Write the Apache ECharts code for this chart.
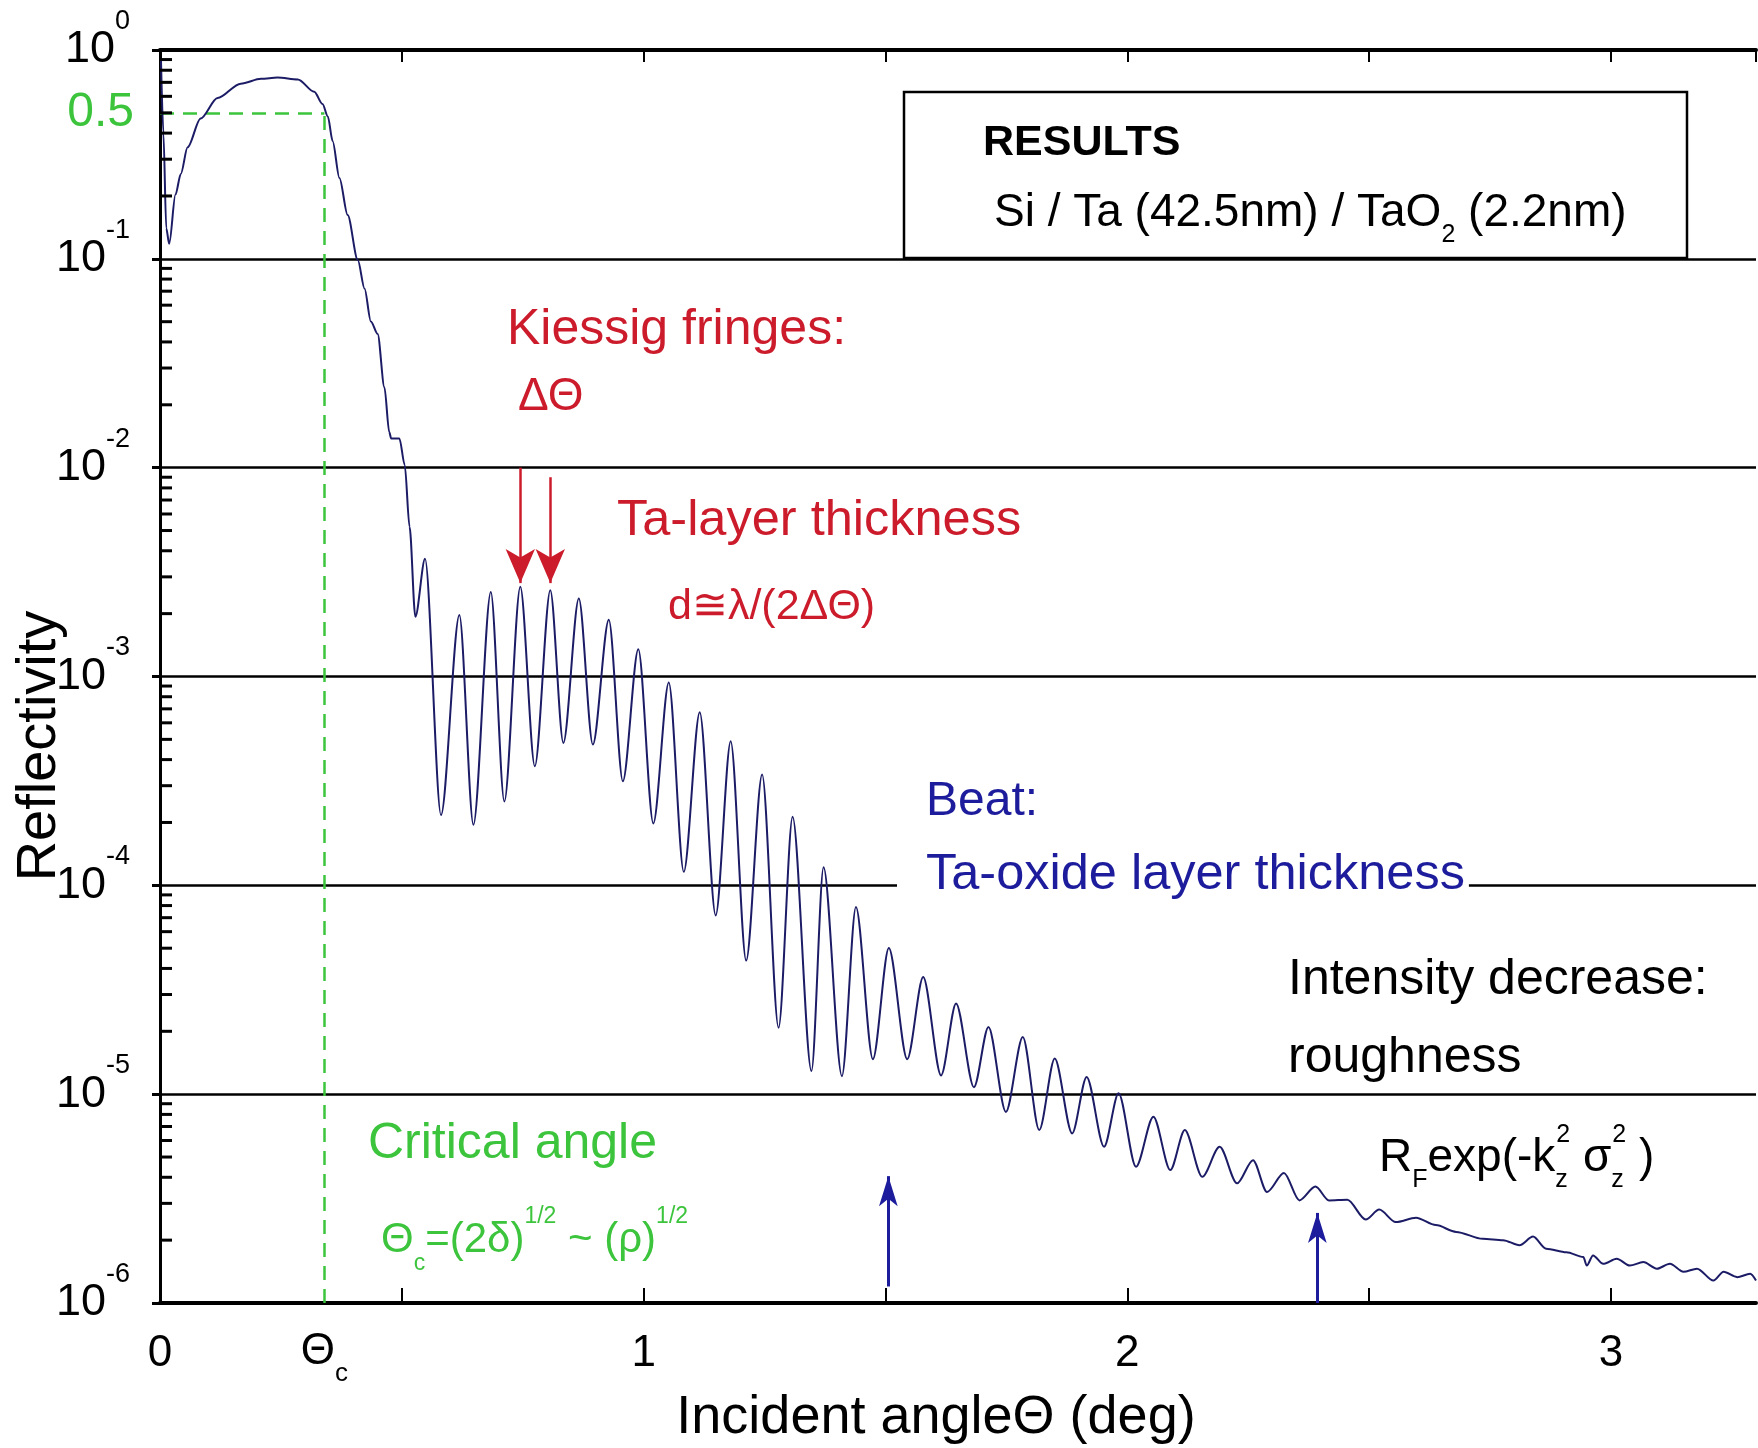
<!DOCTYPE html>
<html><head><meta charset="utf-8">
<script src="https://cdn.jsdelivr.net/npm/echarts@6/dist/echarts.min.js"></script>
<style>html,body{margin:0;padding:0;background:#fff}#c{width:1758px;height:1448px}</style>
</head><body><div id="c"></div>
<script>
// ---- data ----
const angle = [0.002,0.007,0.013,0.019,0.032,0.043,0.057,0.084,0.119,0.167,
  0.209,0.243,0.285,0.319,0.336,0.347,0.357,0.371,0.388,0.409,
  0.423,0.436,0.450,0.464,0.474,0.478,0.495,0.506,0.516,0.528,
  0.548,0.581,0.619,0.648,0.684,0.712,0.745,0.775,0.807,0.834,
  0.866,0.895,0.928,0.957,0.989,1.020,1.052,1.083,1.116,1.149,
  1.180,1.212,1.245,1.279,1.308,1.347,1.372,1.410,1.439,1.474,
  1.507,1.545,1.578,1.615,1.646,1.683,1.713,1.749,1.784,1.818,
  1.850,1.886,1.916,1.952,1.982,2.018,2.054,2.089,2.119,2.155,
  2.191,2.227,2.260,2.289,2.324,2.356,2.389,2.417,2.455,2.493,
  2.521,2.555,2.597,2.638,2.680,2.735,2.777,2.811,2.839,2.866,
  2.908,2.943,2.950,2.963,2.984,3.012,3.039,3.067,3.095,3.122,
  3.150,3.178,3.212,3.233,3.261,3.288,3.300];
const reflectivity = [0.90,0.40,0.14,0.118,0.203,0.255,0.342,0.470,0.589,0.690,
  0.728,0.738,0.723,0.631,0.551,0.481,0.366,0.244,0.162,0.0986,
  0.0719,0.0501,0.0437,0.0243,0.0148,0.0138,0.0138,0.0103,0.00521,0.00193,
  0.00366,0.000217,0.00197,0.000195,0.00254,0.000252,0.00269,0.000372,0.00259,0.000481,
  0.00236,0.000472,0.00187,0.000315,0.00135,0.000198,0.000935,0.000116,0.000675,7.18e-5,
  4.90e-4,4.36e-5,3.39e-4,2.08e-5,2.13e-4,1.29e-5,1.22e-4,1.22e-5,7.87e-5,1.47e-5,
  5.01e-5,1.47e-5,3.64e-5,1.23e-5,2.72e-5,1.08e-5,2.10e-5,8.22e-6,1.88e-5,6.73e-6,
  1.48e-5,6.49e-6,1.21e-5,5.60e-6,1.01e-5,4.49e-6,7.80e-6,4.33e-6,6.73e-6,4.02e-6,
  5.60e-6,3.74e-6,4.83e-6,3.40e-6,4.19e-6,3.10e-6,3.61e-6,3.10e-6,3.12e-6,2.51e-6,
  2.80e-6,2.44e-6,2.56e-6,2.36e-6,2.19e-6,2.03e-6,2.00e-6,1.89e-6,2.08e-6,1.82e-6,
  1.75e-6,1.66e-6,1.51e-6,1.69e-6,1.54e-6,1.63e-6,1.51e-6,1.57e-6,1.46e-6,1.54e-6,
  1.41e-6,1.46e-6,1.28e-6,1.41e-6,1.33e-6,1.38e-6,1.28e-6];

const xLabelValues = [0, 1, 2, 3];
const criticalAngle = 0.34;
const halfLevel = 0.5;
const kiessigArrows = [[0.745, 1.0e-2, 2.8e-3], [0.807, 9.0e-3, 2.8e-3]];
const beatArrows = [[1.506, 1.2e-6, 4.05e-6], [2.393, 1.0e-6, 2.7e-6]];
const minorTickValues = [];
for (let k = -6; k < 0; k++) for (let m = 2; m <= 9; m++) minorTickValues.push(+(m * Math.pow(10, k)).toPrecision(3));

// ---- styles ----
const FONT = '"Liberation Sans", Arial, Helvetica, sans-serif';
const RED = '#cc1c2c', BLUE = '#1c1c9c', GREEN = '#3cc43c', CURVE = '#1c1c66';

const chart = echarts.init(document.getElementById('c'), null, {renderer: 'canvas'});

function txt(x, y, text, color, size, rich, extra) {
  return {
    type: 'text', x: x, y: y, z: 50,
    style: Object.assign({
      text: text, fill: color, fontSize: size, fontFamily: FONT,
      align: 'left', verticalAlign: 'middle', textAlign: 'left', textVerticalAlign: 'middle',
      rich: rich || {}
    }, extra || {})
  };
}
function supsub(size, color) {
  const s = Math.round(size * 0.55);
  return {
    t: {fontSize: size, fontFamily: FONT, color: color, lineHeight: 70},
    sp: {fontSize: s, fontFamily: FONT, color: color, verticalAlign: 'top', lineHeight: 26},
    sb: {fontSize: s, fontFamily: FONT, color: color, verticalAlign: 'bottom', lineHeight: 26},
    sb0: {fontSize: s, fontFamily: FONT, color: color, verticalAlign: 'bottom', lineHeight: 26, width: 1}
  };
}

const option = {
  animation: false,
  backgroundColor: '#fff',
  grid: {left: 160, top: 50, right: 2, bottom: 145, containLabel: false},
  xAxis: [{
    type: 'value', min: 0, max: 3.3, interval: 0.5, position: 'bottom',
    axisLine: {show: true, onZero: false, lineStyle: {color: '#000', width: 4}},
    axisTick: {show: true, inside: true, length: 15, lineStyle: {color: '#000', width: 2}},
    splitLine: {show: false},
    axisLabel: {
      formatter: v => xLabelValues.indexOf(v) >= 0 ? String(v) : '',
      fontSize: 44, fontFamily: FONT, color: '#000', margin: 29, showMaxLabel: false
    }
  }, {
    type: 'value', min: 0, max: 3.3, interval: 0.5, position: 'top',
    axisLine: {show: true, onZero: false, lineStyle: {color: '#000', width: 4}},
    axisTick: {show: true, inside: true, length: 12, lineStyle: {color: '#000', width: 2}},
    splitLine: {show: false}, axisLabel: {show: false}
  }],
  yAxis: [{
    type: 'log', logBase: 10, min: 1e-6, max: 1, position: 'left',
    axisLine: {show: true, lineStyle: {color: '#000', width: 3}},
    axisTick: {show: false},
    splitLine: {show: true, lineStyle: {color: '#000', width: 2.5}},
    axisLabel: {
      margin: 30,
      formatter: v => '{b|10}{s|' + Math.round(Math.log10(v)) + '}',
      rich: {
        b: {fontSize: 45, fontFamily: FONT, color: '#000', lineHeight: 84},
        s: {fontSize: 27, fontFamily: FONT, color: '#000', verticalAlign: 'top', lineHeight: 27}
      }
    }
  }, {
    type: 'log', logBase: 10, min: 1e-6, max: 1, position: 'right',
    axisLine: {show: true, lineStyle: {color: '#000', width: 3}},
    axisTick: {show: true, inside: true, length: 8, lineStyle: {color: '#000', width: 3}},
    splitLine: {show: false}, axisLabel: {show: false}
  }],
  series: [{
    type: 'line', name: 'Reflectivity',
    data: angle.map((a, i) => [a, reflectivity[i]]),
    showSymbol: false, symbol: 'none',
    smooth: 0.3, smoothMonotone: 'x',
    lineStyle: {color: CURVE, width: 2},
    z: 5,
    markLine: {
      silent: true, symbol: ['none', 'none'], animation: false,
      lineStyle: {color: GREEN, type: [14, 9], width: 2.5},
      data: [
        [{coord: [0, halfLevel], label: {show: true, position: 'start', formatter: '0.5', color: GREEN, fontSize: 48, fontFamily: FONT, distance: 26}},
         {coord: [criticalAngle, halfLevel]}],
        [{coord: [criticalAngle, 1e-6], label: {show: true, position: 'start', distance: 14,
            formatter: '{t|\u0398}{c|c}',
            rich: {t: {fontSize: 44, fontFamily: FONT, color: '#000', lineHeight: 70},
                   c: {fontSize: 26, fontFamily: FONT, color: '#000', verticalAlign: 'bottom', lineHeight: 26}}}},
         {coord: [criticalAngle, halfLevel]}]
      ]
    }
  }, {
    type: 'custom', name: 'minor ticks', coordinateSystem: 'cartesian2d',
    data: minorTickValues.map(v => [0, v]),
    encode: {x: 0, y: 1}, silent: true, z: 6,
    renderItem: (params, api) => {
      const p = api.coord([0, api.value(1)]);
      return {type: 'line', shape: {x1: p[0], y1: p[1], x2: p[0] + 12, y2: p[1]}, style: {stroke: '#000', lineWidth: 3}};
    }
  }, {
    type: 'line', name: 'Kiessig arrows', data: [], z: 7,
    markLine: {
      silent: true, animation: false, symbol: ['none', 'arrow'], symbolSize: [22, 34],
      lineStyle: {color: RED, type: 'solid', width: 2.5}, label: {show: false},
      data: kiessigArrows.map(a => [{coord: [a[0], a[1]]}, {coord: [a[0], a[2]]}])
    }
  }, {
    type: 'line', name: 'Beat arrows', data: [], z: 7,
    markLine: {
      silent: true, animation: false, symbol: ['none', 'arrow'], symbolSize: [14, 30],
      lineStyle: {color: BLUE, type: 'solid', width: 3}, label: {show: false},
      data: beatArrows.map(a => [{coord: [a[0], a[1]]}, {coord: [a[0], a[2]]}])
    }
  }],
  graphic: [
    {type: 'rect', z: 40, shape: {x: 904, y: 92, width: 783, height: 166}, style: {fill: '#fff', stroke: '#000', lineWidth: 2.5}},
    txt(983, 143, 'RESULTS', '#000', 43, null, {fontWeight: 'bold'}),
    txt(994, 213, '{t|Si / Ta (42.5nm) / TaO}{sb|2}{t| (2.2nm)}', '#000', 46, supsub(46, '#000')),
    txt(507, 330, 'Kiessig fringes:', RED, 50),
    txt(518, 397, '\u0394\u0398', RED, 46),
    txt(617, 521, 'Ta-layer thickness', RED, 50.5),
    txt(668, 607, 'd\u2245\u03bb/(2\u0394\u0398)', RED, 43),
    txt(926, 802, 'Beat:', BLUE, 48),
    txt(897, 875, 'Ta-oxide layer thickness', BLUE, 50.5, null, {backgroundColor: '#fff', padding: [2, 4, 2, 29]}),
    txt(1288, 980, 'Intensity decrease:', '#000', 50),
    txt(1288, 1058, 'roughness', '#000', 50),
    txt(1379, 1158, '{t|R}{sb|F}{t|exp(-k}{sb0|z}{sp|2}{t| \u03c3}{sb0|z}{sp|2}{t| )}', '#000', 46, supsub(46, '#000')),
    txt(368, 1144, 'Critical angle', GREEN, 50),
    txt(381, 1240, '{t|\u0398}{sb|c}{t|=(2\u03b4)}{sp|1/2}{t| ~ (\u03c1)}{sp|1/2}', GREEN, 42, supsub(42, GREEN)),
    {type: 'text', z: 50, x: 40, y: 746, rotation: Math.PI / 2,
     style: {text: 'Reflectivity', fill: '#000', fontSize: 56, fontFamily: FONT, align: 'center', verticalAlign: 'middle', textAlign: 'center', textVerticalAlign: 'middle'}},
    txt(936, 1418, 'Incident angle\u0398 (deg)', '#000', 54, null, {align: 'center', textAlign: 'center'})
  ]
};
chart.setOption(option);
</script>
</body></html>
